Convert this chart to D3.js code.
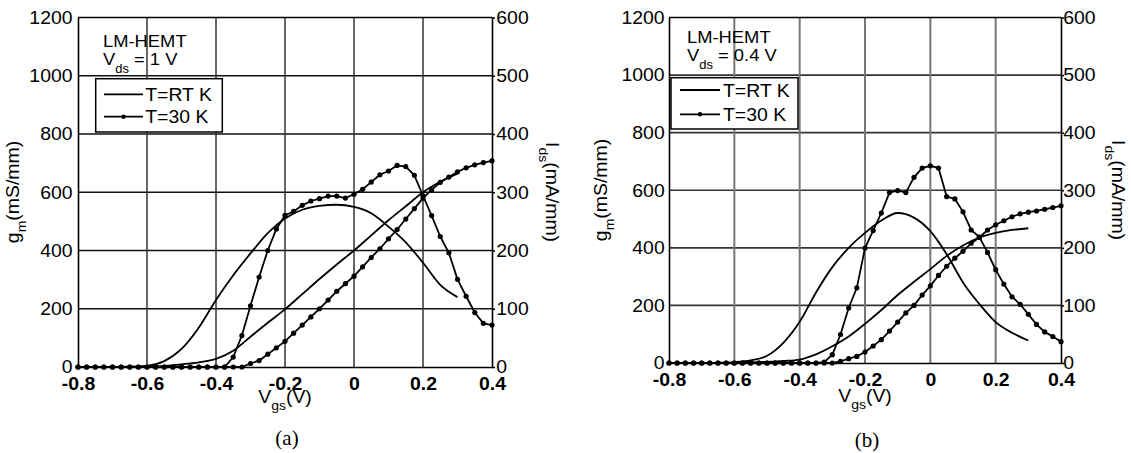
<!DOCTYPE html>
<html>
<head>
<meta charset="utf-8">
<script src="https://cdn.jsdelivr.net/npm/d3@7"></script>
<style>
  body { margin: 0; background: #fff; }
  svg { display: block; }
  text { font-family: "Liberation Sans", Arial, Helvetica, sans-serif; fill: #000; }
</style>
</head>
<body>
<svg id="fig" width="1131" height="453"></svg>
<script>
// Gate-voltage samples: 30 K sweep (25 mV step) and room-temperature sweep (50 mV step)
const vgs30 = [-0.8,-0.775,-0.75,-0.725,-0.7,-0.675,-0.65,-0.625,-0.6,-0.575,-0.55,-0.525,-0.5,-0.475,-0.45,-0.425,-0.4,-0.375,-0.35,-0.325,-0.3,-0.275,-0.25,-0.225,-0.2,-0.175,-0.15,-0.125,-0.1,-0.075,-0.05,-0.025,0,0.025,0.05,0.075,0.1,0.125,0.15,0.175,0.2,0.225,0.25,0.275,0.3,0.325,0.35,0.375,0.4];
const vgsRT = [-0.8,-0.75,-0.7,-0.65,-0.6,-0.55,-0.5,-0.45,-0.4,-0.35,-0.3,-0.25,-0.2,-0.15,-0.1,-0.05,0,0.05,0.1,0.15,0.2,0.25,0.3];

// Axis ticks
const gmTicks = [0,200,400,600,800,1000,1200];
const idsTicks = [0,100,200,300,400,500,600];
const vgsTicks = [-0.8,-0.6,-0.4,-0.2,0,0.2,0.4];
const vgsTickLabels = ["-0.8","-0.6","-0.4","-0.2","0","0.2","0.4"];
const legendLabels = ["T=RT K","T=30 K"];
const panelLabels = ["(a)","(b)"];
const vdsLabels = ["1","0.4"];

// (a) Vds = 1 V
const gmRT_a  = [0,0,0,1,4,20,62,135,230,315,390,460,510,540,553,557,550,528,482,428,358,282,240];
const idsRT_a = [0,0,0,0.5,1,2,4.5,8,14,28,52,76,99,125,151,176,200,226,252,276,300,318,332];
const gm30_a  = [0,0,0,0,0,0,0,0,0,0,0,0,0,0,0,0,0,0,
  34,108,210,309,400,474,521,534,555,570,578,587,587,580,593,610,635,660,673,692,688,658,588,520,448,392,301,243,187,150,144];
const ids30_a = [0,0,0,0,0,0,0,0,0,0,0,0,0,0,0,0,0,0,0,0,
  6,11,22,33,44,58,72,86,100,115,130,143,156,172,188,203,220,236,254,272,290,304,317,326,335,342,347,351,354];

// (b) Vds = 0.4 V
const gmRT_b  = [0,0,0,1,3,9,25,70,143,245,333,400,452,495,521,505,458,378,280,205,142,105,78];
const idsRT_b = [0,0,0,0,0.5,1,2,3.5,6,15,29,46,68,92,118,141,163,186,204,218,226,231,234];
const gm30_b  = [0,0,0,0,0,0,0,0,0,0,0,0,0,0,0,0,0,0,0,
  3,29,99,191,261,399,460,521,592,599,592,645,677,685,677,578,570,525,462,437,384,324,274,230,204,169,134,108,92,74];
const ids30_b = [0,0,0,0,0,0,0,0,0,0,0,0,0,0,0,0,0,0,0,0,0,
  3,7.5,11.5,19,29.5,40.5,55.5,71,87,100,118,134,152,168,182,194,208,218,231,240,247,254,259,262,264,267,270,273];

const svg = d3.select("#fig");
const SX = 1.08; // glyph widening used for all sans-serif labels

const panels = [
  { left: 78, right: 492, top: 17.5, bottom: 367,
    gmRT: gmRT_a, idsRT: idsRT_a, gm30: gm30_a, ids30: ids30_a,
    vds: vdsLabels[0], tag: panelLabels[0],
    hGrid: "#111", vGrid: "#333", hW: 1.5, vW: 1.5,
    noteX: 103, noteY: 47,
    leg: { x: 95.7, y: 78.7, w: 126.6, h: 53.3, r1: 15.6, r2: 38, l0: 8.3, l1: 47.3, t0: 49.5 },
    yPad: 5, rPad: 1,
    gmTitleX: 19, idsTitleX: 546, midY: 192,
    xTitleY: 403, tagY: 445 },
  { left: 669, right: 1061, top: 17.5, bottom: 363,
    gmRT: gmRT_b, idsRT: idsRT_b, gm30: gm30_b, ids30: ids30_b,
    vds: vdsLabels[1], tag: panelLabels[1],
    hGrid: "#333", vGrid: "#777", hW: 1.6, vW: 2,
    noteX: 687, noteY: 43.3,
    leg: { x: 671, y: 77.7, w: 127, h: 51.3, r1: 12.3, r2: 36.6, l0: 9, l1: 49, t0: 52 },
    yPad: 4, rPad: -1,
    gmTitleX: 607, idsTitleX: 1112, midY: 190,
    xTitleY: 402, tagY: 447 }
];

function drawPanel(p) {
  const g = svg.append("g");
  const x  = d3.scaleLinear().domain([-0.8, 0.4]).range([p.left, p.right]);
  const yL = d3.scaleLinear().domain([0, 1200]).range([p.bottom, p.top]);
  const yR = d3.scaleLinear().domain([0, 600]).range([p.bottom, p.top]);

  // grid
  g.append("g").selectAll("line").data(gmTicks.slice(1, -1)).join("line")
    .attr("x1", p.left).attr("x2", p.right)
    .attr("y1", d => yL(d)).attr("y2", d => yL(d))
    .attr("stroke", p.hGrid).attr("stroke-width", p.hW);
  g.append("g").selectAll("line").data(vgsTicks.slice(1, -1)).join("line")
    .attr("x1", d => x(d)).attr("x2", d => x(d))
    .attr("y1", p.top).attr("y2", p.bottom)
    .attr("stroke", p.vGrid).attr("stroke-width", p.vW);

  // room-temperature curves (smooth lines)
  const smooth = (ys, y) => d3.line().x(d => x(d[0])).y(d => y(d[1]))
    .curve(d3.curveMonotoneX)(d3.zip(vgsRT, ys));
  g.append("path").attr("d", smooth(p.gmRT, yL))
    .attr("fill", "none").attr("stroke", "#000").attr("stroke-width", 1.8);
  g.append("path").attr("d", smooth(p.idsRT, yR))
    .attr("fill", "none").attr("stroke", "#000").attr("stroke-width", 1.8);

  // 30 K curves (line + dot markers)
  [[p.gm30, yL], [p.ids30, yR]].forEach(([ys, y]) => {
    const pts = d3.zip(vgs30, ys);
    g.append("path")
      .attr("d", d3.line().x(d => x(d[0])).y(d => y(d[1]))(pts))
      .attr("fill", "none").attr("stroke", "#000").attr("stroke-width", 1.8);
    g.append("g").selectAll("circle").data(pts).join("circle")
      .attr("cx", d => x(d[0])).attr("cy", d => y(d[1])).attr("r", 2.6)
      .attr("fill", "#000");
  });

  // device / bias note
  g.append("text").attr("transform", `translate(${p.noteX},${p.noteY}) scale(${SX},1)`)
    .attr("font-size", 17).text("LM-HEMT");
  const vn = g.append("text").attr("transform", `translate(${p.noteX},${p.noteY + 18}) scale(${SX},1)`)
    .attr("font-size", 17);
  vn.append("tspan").text("V");
  vn.append("tspan").attr("font-size", 12).attr("dy", 8).text("ds");
  vn.append("tspan").attr("dy", -8).text(` = ${p.vds} V`);

  // legend
  const L = p.leg;
  const lg = g.append("g");
  lg.append("rect").attr("x", L.x).attr("y", L.y).attr("width", L.w).attr("height", L.h)
    .attr("fill", "#fff").attr("stroke", "#000").attr("stroke-width", 1.5);
  [L.r1, L.r2].forEach((r, i) => {
    const yy = L.y + r;
    lg.append("line").attr("x1", L.x + L.l0).attr("x2", L.x + L.l1)
      .attr("y1", yy).attr("y2", yy).attr("stroke", "#000").attr("stroke-width", 1.8);
    if (i === 1) lg.append("circle").attr("cx", L.x + (L.l0 + L.l1) / 2).attr("cy", yy)
      .attr("r", 2.2).attr("fill", "#000");
    lg.append("text").attr("transform", `translate(${L.x + L.t0},${yy + 6.5}) scale(${SX},1)`)
      .attr("font-size", 18).text(legendLabels[i]);
  });

  // axes
  const ax = g.append("g");
  const left = ax.append("g").attr("transform", `translate(${p.left},0)`)
    .call(d3.axisLeft(yL).tickValues(gmTicks).tickFormat(d3.format("d"))
      .tickSize(0).tickPadding(p.yPad));
  const right = ax.append("g").attr("transform", `translate(${p.right},0)`)
    .call(d3.axisRight(yR).tickValues(idsTicks).tickFormat(d3.format("d"))
      .tickSizeInner(3).tickSizeOuter(0).tickPadding(p.rPad));
  const bottom = ax.append("g").attr("transform", `translate(0,${p.bottom})`)
    .call(d3.axisBottom(x).tickValues(vgsTicks).tickFormat((d, i) => vgsTickLabels[i])
      .tickSize(0).tickPadding(10));
  [left, right, bottom].forEach(a => {
    a.select(".domain").attr("stroke", "#000").attr("stroke-width", 1.6);
    a.selectAll(".tick line").attr("stroke", "#000").attr("stroke-width", 1.5);
    a.selectAll("text").attr("font-size", 18)
      .attr("font-family", '"Liberation Sans", Arial, sans-serif')
      .attr("fill", "#000").attr("transform", `scale(${SX},1)`);
  });
  bottom.selectAll("text").attr("font-weight", "bold");
  ax.append("line").attr("x1", p.left).attr("x2", p.right)
    .attr("y1", p.top).attr("y2", p.top).attr("stroke", "#000").attr("stroke-width", 1.6);

  // axis titles
  const gt = g.append("text")
    .attr("transform", `translate(${p.gmTitleX},${p.midY}) rotate(-90) scale(${SX},1)`)
    .attr("text-anchor", "middle").attr("font-size", 18);
  gt.append("tspan").text("g");
  gt.append("tspan").attr("font-size", 13).attr("dy", 7).text("m");
  gt.append("tspan").attr("dy", -7).text("(mS/mm)");

  const it = g.append("text")
    .attr("transform", `translate(${p.idsTitleX},${p.midY}) rotate(90) scale(${SX},1)`)
    .attr("text-anchor", "middle").attr("font-size", 18);
  it.append("tspan").text("I");
  it.append("tspan").attr("font-size", 13).attr("dy", 7).text("ds");
  it.append("tspan").attr("dy", -7).text("(mA/mm)");

  const xt = g.append("text")
    .attr("transform", `translate(${(p.left + p.right) / 2},${p.xTitleY}) scale(${SX},1)`)
    .attr("text-anchor", "middle").attr("font-size", 18);
  xt.append("tspan").text("V");
  xt.append("tspan").attr("font-size", 13).attr("dy", 7).text("gs");
  xt.append("tspan").attr("dy", -7).text("(V)");

  g.append("text").attr("x", (p.left + p.right) / 2 + 2).attr("y", p.tagY)
    .attr("text-anchor", "middle").attr("font-size", 21)
    .style("font-family", '"Liberation Serif", "Times New Roman", serif')
    .text(p.tag);
}

panels.forEach(drawPanel);
</script>
</body>
</html>
